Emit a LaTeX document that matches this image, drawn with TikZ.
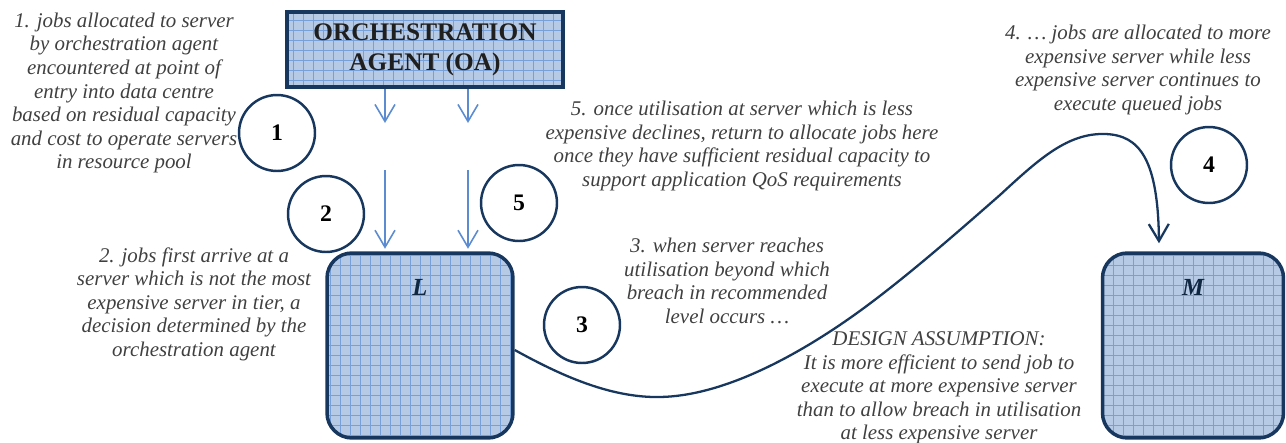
\documentclass[tikz,border=0pt]{standalone}
\usepackage{fontspec}
\setmainfont{Liberation Serif}
\usetikzlibrary{
    arrows.meta,
    backgrounds,
}
\definecolor{navy}{HTML}{17375E}
\definecolor{boxfill}{HTML}{B6CAE6}
\definecolor{gridblue}{HTML}{76A0DA}
\definecolor{feedblue}{HTML}{5B8BD0}
\definecolor{notegray}{HTML}{404040}

\begin{document}
\begin{tikzpicture}[x=0.02cm,y=-0.02cm,>={Straight Barb[length=0.34cm,width=0.4cm]}]

    \tikzstyle{commonBox}=[draw=navy, line width=2pt, fill=boxfill,
        path picture={\draw[gridblue, line width=0.35pt] (path picture bounding box.south west) grid[step=0.2cm] (path picture bounding box.north east);}]
    \tikzstyle{agent}=[commonBox, minimum width=5.52cm, minimum height=1.5cm, align=center, text=black!88, font=\fontsize{14.4}{17}\selectfont\bfseries]
    \tikzstyle{server}=[commonBox, rounded corners=0.5cm, minimum width=3.72cm, minimum height=3.7cm]
    \tikzstyle{serverName}=[anchor=center, text=navy!70!black, font=\fontsize{14}{16}\selectfont\bfseries\itshape]
    \tikzstyle{marker}=[circle, draw=navy, line width=1.4pt, minimum size=1.52cm, inner sep=0pt, font=\fontsize{13.5}{15}\selectfont\bfseries]
    \tikzstyle{note}=[align=center, inner sep=0pt, text=notegray, font=\fontsize{11.9}{13.4}\selectfont\itshape]
    \tikzstyle{feed}=[->, draw=feedblue, line width=0.9pt]
    \tikzstyle{flow}=[->, draw=navy, line width=1.3pt]

    % Frame of the picture
    \useasboundingbox (0,0) rectangle (1286,443);

    % Agent and servers
    \node at (425,49.5) [agent] (OA) {ORCHESTRATION\\AGENT (OA)};
    \node at (420,345.5) [server, label={[serverName, yshift=-0.72cm]north:L}] (L) {};
    \node at (1193,345.5) [server, minimum width=3.62cm, label={[serverName, yshift=-0.72cm]north:M}] (M) {};

    % Numbered steps
    \node at (277,133)  [marker] (S1) {1};
    \node at (326,214)  [marker] (S2) {2};
    \node at (582,325)  [marker] (S3) {3};
    \node at (1209,165) [marker] (S4) {4};
    \node at (519,203)  [marker] (S5) {5};

    % Notes
    \node at (124,93) [note] (N1) {1. jobs allocated to server\\by orchestration agent\\encountered at point of\\entry into data centre\\based on residual capacity\\and cost to operate servers\\in resource pool};
    \node at (194,304) [note] (N2) {2. jobs first arrive at a\\server which is not the most\\expensive server in tier, a\\decision determined by the\\orchestration agent};
    \node at (727,281) [note] (N3) {3. when server reaches\\utilisation beyond which\\breach in recommended\\level occurs \dots};
    \node at (1138,70) [note] (N4) {4. … jobs are allocated to more\\expensive server while less\\expensive server continues to\\execute queued jobs};
    \node at (742,146) [note] (N5) {5. once utilisation at server which is less\\expensive declines, return to allocate jobs here\\once they have sufficient residual capacity to\\support application QoS requirements};
    \node at (939,388) [note] (DA) {DESIGN ASSUMPTION:\\It is more efficient to send job to\\execute at more expensive server\\than to allow breach in utilisation\\at less expensive server};

    % Jobs from the agent
    \coordinate (oaA) at (385,123);
    \coordinate (oaB) at (468,123);
    \coordinate (inA) at (385,170);
    \coordinate (inB) at (468,170);
    \draw[feed] (OA.south -| oaA) -- (oaA);
    \draw[feed] (OA.south -| oaB) -- (oaB);
    \draw[feed, shorten >=0.05cm] (inA) -- (inA |- L.north);
    \draw[feed, shorten >=0.05cm] (inB) -- (inB |- L.north);

    % Overflow from L to M
    \draw[flow] ([yshift=-0.09cm]L.east) .. controls (560,375) and (610,398) .. (660,397)
        .. controls (720,396) and (790,360) .. (850,318)
        .. controls (900,283) and (960,230) .. (1000,195)
        .. controls (1040,158) and (1068,133) .. (1105,134)
        .. controls (1140,135) and (1158,160) .. ([xshift=-0.68cm,yshift=0.16cm]M.north);

\end{tikzpicture}
\end{document}
